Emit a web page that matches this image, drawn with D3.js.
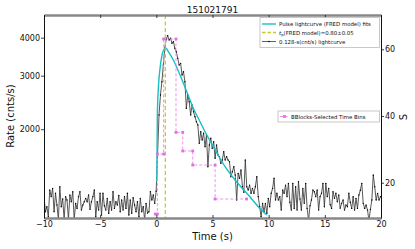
<!DOCTYPE html>
<html><head><meta charset="utf-8">
<script src="https://cdn.jsdelivr.net/npm/d3@7"></script>
<style>
body{margin:0;background:#fff}
svg{display:block}
text{font-family:"DejaVu Sans",sans-serif}
</style>
</head><body><svg id="c" width="415" height="249"></svg>
<script>
const title = "151021791";
const tStart = -10, binSize = 0.128;
const lcRates = [
1200,1071,1112,1031,1262,1200,1278,1071,1231,1126,1010,1294,1112,1180,1010,1200,1170,1010,1215,1155,
1246,1010,1140,1098,1200,1246,1084,1126,1155,1185,1155,1215,1090,1155,1200,1262,1031,1155,1084,1231,
1044,1231,1120,1084,1185,1058,1155,1084,1246,1098,1155,1126,1210,1071,1170,1084,1200,1098,1231,1044,
1170,1058,1190,1126,1071,1155,1031,1185,1071,1112,1010,1141,1060,1071,1246,1170,1215,1141,
1250,
1657,2227,2591,2866,3252,3691,3961,4061,3931,3981,3834,3880,3691,3597,3421,3252,3294,3016,3092,2866,
2343,2591,2463,2227,2402,2284,2198,2117,2064,1797,1963,1843,1939,1751,1914,1506,1774,1867,1730,1819,
1605,1774,1645,
1624,1545,1584,1687,1584,1624,1584,1564,1396,1450,1506,1414,1170,1432,1379,1468,1294,1240,1584,1294,
1262,1310,1231,1278,1231,1294,1396,1200,1112,1031,1141,1071,1141,1058,1185,1112,1231,1278,1379,1170,
1231,1170,
1200,1084,1262,1231,1310,1200,1327,1150,1084,1327,1098,1294,1084,1343,1180,1084,1278,1141,1327,1098,
1005,1120,1170,1262,1246,1200,1262,1084,1200,1231,1327,1112,1327,1200,1278,1130,1098,1246,1185,1231,
1155,1215,1100,1141,1170,1084,1126,1112,1231,1150,1098,1200,1084,1185,1098,1215,1260,1327,1141,1098,
1126,1084,1000,1090,1170,1414,1294,1170,1230,1170,1200
];
const fredTimes = [0.04,0.09,0.18,0.33,0.48,0.69,0.86,1.07,1.51,2.11,2.71,3.29,3.89,4.49,5.08,6.12,7.01,8.19,9.08,9.83];
const fredRates = [1343,2228,2727,3172,3464,3663,3691,3597,3378,3016,2657,2344,2117,1914,1752,1506,1361,1215,1112,1044];
const tPeak = 0.80, tPeakErr = 0.05;
const bbEdges = [-0.09,0.09,0.65,1.75,2.35,3.24,5.23,8.03];
const bbRates = [1052,1657,3961,1953,1696,1525,1179];
const xTicks = [-10,-5,0,5,10,15,20];
const yTicks = [2000,3000,4000];
const sTicks = [20,40,60];
const legendLabels = ["Pulse lightcurve (FRED model) fits","(FRED model)=0.80\u00b10.05","0.128-s(cnt/s) lightcurve"];
const bbLabel = "BBlocks-Selected Time Bins";

const L=44, R=381, T=15, B=218;
const svg = d3.select("#c");
const x = d3.scaleLinear().domain([-10,20]).range([L,R]);
const y = d3.scaleLog().domain([1021,4750]).range([B,T]);
const yS = d3.scaleLinear().domain([9.42,70.28]).range([B,T]);

svg.append("defs").append("clipPath").attr("id","clip")
  .append("rect").attr("x",L).attr("y",T).attr("width",R-L).attr("height",B-T);
const g = svg.append("g").attr("clip-path","url(#clip)");

const lc = lcRates.map((v,i)=>({t:tStart+i*binSize, v}));
g.append("path").datum(lc)
  .attr("d", d3.line().x(d=>x(d.t)).y(d=>y(d.v)))
  .attr("fill","none").attr("stroke","#3a3a3a").attr("stroke-width",0.85);
g.selectAll("circle.lc").data(lc).enter().append("circle").attr("class","lc")
  .attr("cx",d=>x(d.t)).attr("cy",d=>y(d.v)).attr("r",0.7).attr("fill","#000");

const fred = fredTimes.map((t,i)=>({t, v:fredRates[i]}));
g.append("path").datum(fred)
  .attr("d", d3.line().x(d=>x(d.t)).y(d=>y(d.v)).curve(d3.curveMonotoneX))
  .attr("fill","none").attr("stroke","#17bfc4").attr("stroke-width",1.4);

g.append("line").attr("x1",x(tPeak)).attr("x2",x(tPeak)).attr("y1",T).attr("y2",B)
  .attr("stroke","#c8c83a").attr("stroke-width",1.3).attr("stroke-dasharray","4,2.5");

const bbPts = [];
bbRates.forEach((v,i)=>{ bbPts.push({t:bbEdges[i],v}); bbPts.push({t:bbEdges[i+1],v}); });
g.append("path").datum(bbPts)
  .attr("d", d3.line().x(d=>x(d.t)).y(d=>y(d.v)))
  .attr("fill","none").attr("stroke","#ee82ee").attr("stroke-width",0.9).attr("stroke-dasharray","3,2");
g.selectAll("rect.bb").data(bbPts).enter().append("rect").attr("class","bb")
  .attr("x",d=>x(d.t)-1.4).attr("y",d=>y(d.v)-1.4).attr("width",2.8).attr("height",2.8).attr("fill","#e070e0");

// axes
const fmt = d3.format("d");
const ax = svg.append("g").attr("transform",`translate(0,${B})`)
  .call(d3.axisBottom(x).tickValues(xTicks).tickSize(-3).tickSizeOuter(0).tickPadding(3).tickFormat(fmt));
ax.select(".domain").attr("stroke","#888").attr("stroke-width",2.5);
const axT = svg.append("g").attr("transform",`translate(0,${T})`)
  .call(d3.axisTop(x).tickValues(xTicks).tickSize(-3).tickSizeOuter(0).tickFormat(""));
axT.select(".domain").attr("stroke","#888").attr("stroke-width",2.5);
const ayl = svg.append("g").attr("transform",`translate(${L},0)`)
  .call(d3.axisLeft(y).tickValues(yTicks).tickSize(3).tickSizeOuter(0).tickPadding(1).tickFormat(fmt));
ayl.select(".domain").attr("stroke","#111").attr("stroke-width",1);
const ayr = svg.append("g").attr("transform",`translate(${R},0)`)
  .call(d3.axisRight(yS).tickValues(sTicks).tickSize(3).tickSizeOuter(0).tickPadding(1).tickFormat(fmt));
ayr.select(".domain").attr("stroke","#111").attr("stroke-width",1);
svg.selectAll(".tick text").attr("font-size","8px").attr("font-family","DejaVu Sans").attr("fill","#111");
svg.selectAll(".tick line").attr("stroke","#111").attr("stroke-width",0.8);

svg.append("text").attr("x",(L+R)/2).attr("y",12.5).attr("text-anchor","middle")
  .attr("font-size","9px").attr("fill","#111").text(title);
svg.append("text").attr("x",(L+R)/2).attr("y",239.5).attr("text-anchor","middle")
  .attr("font-size","10px").attr("fill","#111").text("Time (s)");
svg.append("text").attr("transform","translate(14,116) rotate(-90)").attr("text-anchor","middle")
  .attr("font-size","10px").attr("fill","#111").text("Rate (cnts/s)");
svg.append("text").attr("transform","translate(406.5,117) rotate(-90)").attr("text-anchor","middle")
  .attr("font-size","10px").attr("fill","#111").text("S");

// legend 1
const lg = svg.append("g");
lg.append("rect").attr("x",260).attr("y",17.5).attr("width",119.5).attr("height",30)
  .attr("fill","#fff").attr("stroke","#bbb").attr("stroke-width",0.8);
const ly = [24,32.5,41.5];
lg.append("line").attr("x1",262).attr("x2",276).attr("y1",ly[0]).attr("y2",ly[0]).attr("stroke","#17bfc4").attr("stroke-width",1.4);
lg.append("line").attr("x1",262).attr("x2",276).attr("y1",ly[1]).attr("y2",ly[1]).attr("stroke","#c8c83a").attr("stroke-width",1.3).attr("stroke-dasharray","3.5,2");
lg.append("line").attr("x1",262).attr("x2",276).attr("y1",ly[2]).attr("y2",ly[2]).attr("stroke","#3a3a3a").attr("stroke-width",0.8);
lg.append("circle").attr("cx",269).attr("cy",ly[2]).attr("r",0.8).attr("fill","#000");
lg.append("text").attr("x",279).attr("y",ly[0]+2).attr("font-size","5.4px").attr("fill","#111").text(legendLabels[0]);
const t2 = lg.append("text").attr("x",279).attr("y",ly[1]+2).attr("font-size","5.4px").attr("fill","#111");
t2.append("tspan").attr("font-style","italic").text("t");
t2.append("tspan").attr("font-size","3.8px").attr("dy",1.2).text("p");
t2.append("tspan").attr("dy",-1.2).text(legendLabels[1]);
lg.append("text").attr("x",279).attr("y",ly[2]+2).attr("font-size","5.4px").attr("fill","#111").text(legendLabels[2]);

// legend 2
const lg2 = svg.append("g");
lg2.append("rect").attr("x",278).attr("y",111).attr("width",101.5).attr("height",11)
  .attr("fill","#fff").attr("stroke","#bbb").attr("stroke-width",0.8);
lg2.append("line").attr("x1",280).attr("x2",289).attr("y1",116.5).attr("y2",116.5)
  .attr("stroke","#ee82ee").attr("stroke-width",0.9).attr("stroke-dasharray","3,1.5");
lg2.append("rect").attr("x",283.1).attr("y",115.1).attr("width",2.8).attr("height",2.8).attr("fill","#e070e0");
lg2.append("text").attr("x",291).attr("y",118.5).attr("font-size","5.4px").attr("fill","#111").text(bbLabel);
</script>
</body></html>
